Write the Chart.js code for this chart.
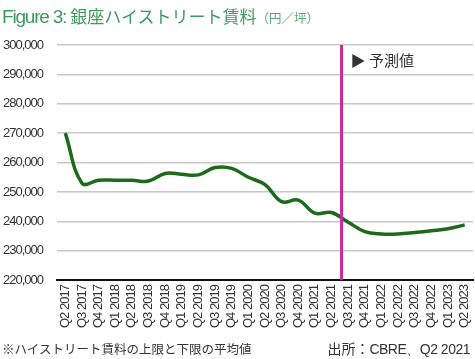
<!DOCTYPE html>
<html><head><meta charset="utf-8">
<script src="https://cdn.jsdelivr.net/npm/chart.js@4.4.1/dist/chart.umd.min.js"></script>
<style>
html,body{margin:0;padding:0;background:#fff;width:475px;height:359px;overflow:hidden;}
#wrap{position:relative;width:475px;height:359px;}
canvas{position:absolute;left:0;top:0;}
.t{position:absolute;white-space:nowrap;}
.cond{font-family:'Liberation Sans',sans-serif;}
#title{left:2px;top:3px;color:#3c9a5f;}
#title .cond{font-size:19px;letter-spacing:-1.2px;}
#title .jp{font-family:'Noto Sans CJK JP',sans-serif;font-size:17px;}
#title .unit{font-family:'Noto Sans CJK JP',sans-serif;font-size:12.5px;color:#5aa878;margin-left:0px;}
#note{left:2px;top:339px;font-size:12.5px;color:#333;font-family:'Noto Sans CJK JP',sans-serif;}
#src{right:5px;top:338px;font-size:14px;color:#333;font-family:'Noto Sans CJK JP',sans-serif;}
#src .cond{font-size:14px;letter-spacing:-0.5px;}
</style></head>
<body><div id="wrap">
<canvas id="c" width="475" height="359"></canvas>
<div class="t" id="title"><span class="cond">Figure 3: </span><span class="jp">銀座ハイストリート賃料</span><span class="unit">（円／坪）</span></div>
<div class="t" id="note">※ハイストリート賃料の上限と下限の平均値</div>
<div class="t" id="src">出所：<span class="cond">CBRE、Q2 2021</span></div>
</div>
<script>
const categories = ['Q2 2017','Q3 2017','Q4 2017','Q1 2018','Q2 2018','Q3 2018','Q4 2018','Q1 2019','Q2 2019','Q3 2019','Q4 2019','Q1 2020','Q2 2020','Q3 2020','Q4 2020','Q1 2021','Q2 2021','Q3 2021','Q4 2021','Q1 2022','Q2 2022','Q3 2022','Q4 2022','Q1 2023','Q2 2023'];
const rentValues = [270000,253000,254000,254000,254000,253700,256300,256000,255800,258300,258000,255000,252500,246700,247200,242800,243000,239700,236500,235700,235700,236200,236800,237500,238800];
const yTicks = [220000,230000,240000,250000,260000,270000,280000,290000,300000];
const forecastLabel = '▶ 予測値';
const forecastPosition = 16.6; // between Q2 2021 and Q3 2021 (category index)

const tickFamily = "'Liberation Sans',sans-serif";

const tightPlugin = {
  id: 'tight',
  beforeUpdate(chart) { chart.ctx.letterSpacing = '-1px'; },
  beforeLayout(chart) { chart.ctx.letterSpacing = '-1px'; },
  beforeDraw(chart) { chart.ctx.letterSpacing = '-1px'; }
};

const forecastPlugin = {
  id: 'forecast',
  afterDatasetsDraw(chart) {
    const {ctx, chartArea, scales} = chart;
    const x = scales.x.getPixelForValue(forecastPosition);
    ctx.save();
    ctx.strokeStyle = '#c52a9c';
    ctx.lineWidth = 3;
    ctx.beginPath();
    ctx.moveTo(x, chartArea.top);
    ctx.lineTo(x, chartArea.bottom);
    ctx.stroke();
    ctx.letterSpacing = '0px';
    ctx.fillStyle = '#333';
    ctx.font = "15px 'Noto Sans CJK JP', sans-serif";
    ctx.textBaseline = 'middle';
    ctx.fillText(forecastLabel, x + 9, chartArea.top + 15);
    ctx.restore();
  }
};

new Chart(document.getElementById('c'), {
  type: 'line',
  data: {
    labels: categories,
    datasets: [{
      data: rentValues,
      borderColor: '#1d6a1d',
      borderWidth: 3.5,
      pointRadius: 0,
      tension: 0.4,
      fill: false
    }]
  },
  options: {
    responsive: false,
    animation: false,
    layout: {padding: {top: 45, right: 2, bottom: 26, left: 3}},
    plugins: {legend: {display: false}, tooltip: {enabled: false}},
    scales: {
      x: {
        offset: true,
        afterFit(scale) { scale.paddingLeft = 0; scale.paddingRight = 0; },
        grid: {display: false, drawTicks: false},
        border: {display: true, color: '#111', width: 2},
        ticks: {
          autoSkip: false, maxRotation: 90, minRotation: 90,
          color: '#333', padding: 5,
          font: {family: tickFamily, size: 13}
        }
      },
      y: {
        min: 220000, max: 300000,
        afterBuildTicks(scale) { scale.ticks = yTicks.map(v => ({value: v})); },
        afterFit(scale) { scale.width = 54; },
        grid: {color: '#c8c8c8', lineWidth: 1.5, drawTicks: false},
        border: {display: false},
        ticks: {
          color: '#333', padding: 14,
          font: {family: tickFamily, size: 13},
          callback: v => v.toLocaleString('en-US')
        }
      }
    }
  },
  plugins: [tightPlugin, forecastPlugin]
});
</script>
</body></html>
